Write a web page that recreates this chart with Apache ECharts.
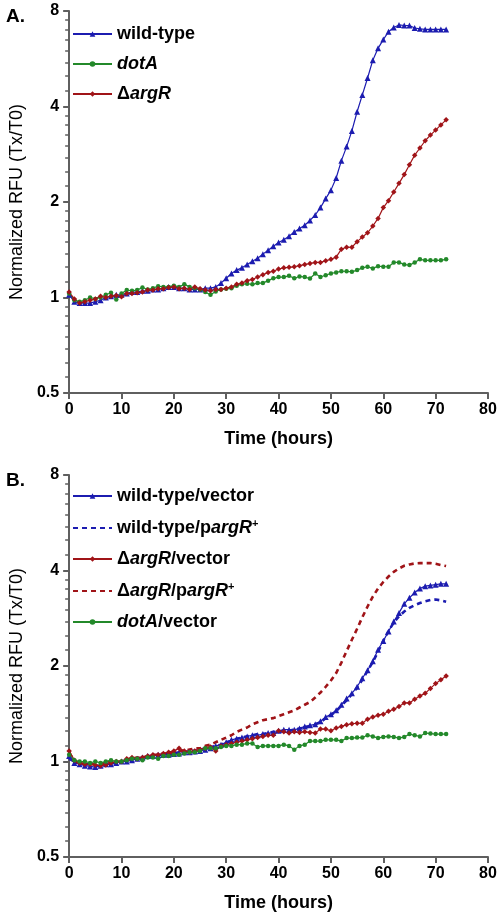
<!DOCTYPE html>
<html><head><meta charset="utf-8">
<script src="https://cdn.jsdelivr.net/npm/echarts@6/dist/echarts.min.js"></script>
<style>html,body{margin:0;padding:0;background:#fff}#c{width:500px;height:914px}</style>
</head><body><div id="c"></div>
<script>
// ---- data ----
const hours = [0,1,2,3,4,5,6,7,8,9,10,11,12,13,14,15,16,17,18,19,20,21,22,23,24,25,26,27,28,29,30,31,32,33,34,35,36,37,38,39,40,41,42,43,44,45,46,47,48,49,50,51,52,53,54,55,56,57,58,59,60,61,62,63,64,65,66,67,68,69,70,71,72];
const xTickLabels = [0,10,20,30,40,50,60,70,80];
const yMajor = [0.5,1,2,4,8];
const yMinor = [0.5625,0.625,0.6875,0.75,0.8125,0.875,0.9375,1.125,1.25,1.375,1.5,1.625,1.75,1.875,2.25,2.5,2.75,3,3.25,3.5,3.75,4.5,5,5.5,6,6.5,7,7.5];

// Panel A
const aWildType = [1.02,0.97,0.96,0.96,0.96,0.97,0.98,1.0,1.01,1.02,
  1.02,1.03,1.04,1.04,1.05,1.05,1.06,1.06,1.07,1.08,
  1.08,1.07,1.07,1.06,1.06,1.06,1.07,1.07,1.08,1.11,
  1.15,1.19,1.22,1.24,1.27,1.30,1.33,1.37,1.41,1.45,
  1.49,1.52,1.56,1.61,1.65,1.69,1.75,1.82,1.92,2.05,
  2.18,2.38,2.70,2.99,3.35,3.85,4.35,4.92,5.6,6.1,
  6.5,6.88,7.1,7.23,7.2,7.2,7.07,7.03,7.0,7.0,
  7.0,7.0,7.0];
const aDotA = [1.03,0.98,0.97,0.98,1.0,0.99,1.0,1.02,1.035,0.985,
  1.03,1.055,1.05,1.055,1.075,1.06,1.07,1.085,1.08,1.08,
  1.09,1.08,1.1,1.08,1.07,1.06,1.04,1.02,1.045,1.06,
  1.065,1.07,1.09,1.1,1.105,1.1,1.11,1.11,1.13,1.15,
  1.16,1.16,1.17,1.15,1.165,1.16,1.148,1.19,1.16,1.175,
  1.19,1.2,1.21,1.21,1.205,1.22,1.24,1.25,1.235,1.255,
  1.25,1.25,1.29,1.29,1.27,1.265,1.29,1.32,1.31,1.31,
  1.31,1.31,1.32];
const aArgR = [1.04,0.99,0.96,0.97,0.98,0.99,1.01,1.0,1.01,1.015,
  1.005,1.03,1.03,1.035,1.04,1.055,1.055,1.065,1.065,1.075,
  1.08,1.065,1.07,1.06,1.08,1.065,1.055,1.05,1.06,1.06,
  1.07,1.08,1.1,1.11,1.13,1.14,1.16,1.18,1.2,1.21,
  1.23,1.24,1.245,1.25,1.26,1.27,1.28,1.29,1.29,1.305,
  1.32,1.34,1.42,1.44,1.44,1.5,1.55,1.6,1.68,1.775,
  1.92,2.02,2.15,2.29,2.44,2.62,2.81,2.96,3.12,3.25,
  3.37,3.5,3.63];

// Panel B
const bWtVector = [1.04,0.99,0.98,0.97,0.965,0.96,0.97,0.98,0.98,0.99,
  1.0,1.0,1.01,1.02,1.03,1.04,1.04,1.05,1.05,1.05,
  1.055,1.06,1.07,1.07,1.075,1.08,1.09,1.1,1.12,1.13,
  1.15,1.17,1.18,1.19,1.2,1.21,1.21,1.22,1.23,1.23,
  1.25,1.26,1.26,1.26,1.27,1.29,1.30,1.31,1.34,1.38,
  1.41,1.45,1.51,1.58,1.64,1.72,1.83,1.94,2.07,2.25,
  2.40,2.57,2.76,2.94,3.14,3.28,3.41,3.51,3.57,3.59,
  3.61,3.63,3.63];
const bWtParg = [1.02,1.0,0.99,0.98,0.98,0.97,0.97,0.98,0.99,0.99,
  1.0,1.01,1.02,1.02,1.03,1.04,1.04,1.05,1.05,1.06,
  1.06,1.07,1.07,1.08,1.08,1.09,1.1,1.11,1.12,1.13,
  1.15,1.16,1.18,1.19,1.2,1.21,1.22,1.22,1.23,1.24,
  1.24,1.25,1.25,1.26,1.27,1.28,1.29,1.31,1.33,1.37,
  1.4,1.44,1.5,1.56,1.63,1.71,1.81,1.93,2.06,2.22,
  2.4,2.58,2.74,2.87,2.97,3.05,3.11,3.16,3.2,3.23,
  3.24,3.22,3.19];
const bArgVector = [1.08,1.01,0.99,0.98,0.98,0.975,0.97,0.975,0.99,1.0,
  1.0,1.02,1.03,1.02,1.03,1.04,1.05,1.05,1.06,1.07,
  1.08,1.1,1.08,1.07,1.08,1.09,1.1,1.11,1.08,1.12,
  1.13,1.14,1.15,1.16,1.17,1.18,1.19,1.2,1.21,1.21,
  1.25,1.24,1.23,1.24,1.235,1.24,1.235,1.23,1.265,1.265,
  1.25,1.275,1.29,1.305,1.315,1.32,1.32,1.36,1.38,1.40,
  1.41,1.44,1.46,1.49,1.53,1.53,1.57,1.61,1.64,1.70,
  1.76,1.81,1.86];
const bArgParg = [1.07,1.0,0.99,0.98,0.98,0.98,0.98,0.99,1.0,1.0,
  1.0,1.01,1.02,1.03,1.03,1.04,1.05,1.05,1.06,1.06,
  1.07,1.08,1.08,1.09,1.1,1.1,1.12,1.13,1.15,1.17,
  1.19,1.21,1.24,1.26,1.28,1.31,1.33,1.35,1.36,1.37,
  1.39,1.41,1.43,1.45,1.48,1.51,1.54,1.59,1.65,1.72,
  1.80,1.90,2.05,2.23,2.42,2.62,2.85,3.08,3.31,3.51,
  3.68,3.83,3.96,4.06,4.14,4.18,4.21,4.22,4.22,4.22,
  4.2,4.16,4.13];
const bDotVector = [1.05,1.01,1.0,1.0,0.99,1.0,0.99,1.0,1.01,1.0,
  1.0,1.01,1.02,1.02,1.01,1.03,1.03,1.02,1.04,1.04,
  1.05,1.05,1.06,1.07,1.07,1.08,1.1,1.1,1.1,1.11,
  1.12,1.12,1.13,1.13,1.14,1.14,1.11,1.12,1.12,1.12,
  1.12,1.13,1.12,1.09,1.12,1.13,1.16,1.16,1.16,1.17,
  1.17,1.17,1.16,1.185,1.185,1.19,1.19,1.21,1.2,1.185,
  1.195,1.2,1.195,1.185,1.195,1.22,1.21,1.2,1.23,1.225,
  1.22,1.22,1.22];

// ---- chart ----
const FONT = '"Liberation Sans", Arial, sans-serif';
const BLUE = '#1c1cb0', RED = '#a01418', GREEN = '#23892a', AXIS = '#5f5f5f';
const pair = arr => hours.map((h, i) => [h, arr[i]]);

const legendRich = {
  b: {fontWeight: 'bold', fontSize: 18, lineHeight: 20, color: '#000', fontFamily: FONT},
  i: {fontWeight: 'bold', fontStyle: 'italic', fontSize: 18, lineHeight: 20, color: '#000', fontFamily: FONT},
  s: {fontWeight: 'bold', fontSize: 11, lineHeight: 20, color: '#000', fontFamily: FONT, verticalAlign: 'top', padding: [0,0,8,0]}
};
const legendText = {
  'wild-type': '{b|wild-type}',
  'dotA': '{i|dotA}',
  'ΔargR': '{b|Δ}{i|argR}',
  'wild-type/vector': '{b|wild-type/vector}',
  'wild-type/pargR+': '{b|wild-type/p}{i|argR}{s|+}',
  'ΔargR/vector': '{b|Δ}{i|argR}{b|/vector}',
  'ΔargR/pargR+': '{b|Δ}{i|argR}{b|/p}{i|argR}{s|+}',
  'dotA/vector': '{i|dotA}{b|/vector}'
};

function xAx(gi) {
  return {
    type: 'value', gridIndex: gi, min: 0, max: 80, interval: 10,
    name: 'Time (hours)', nameLocation: 'middle', nameGap: 37,
    nameTextStyle: {fontFamily: FONT, fontWeight: 'bold', fontSize: 18, color: '#000'},
    axisLine: {lineStyle: {color: AXIS, width: 2}},
    axisTick: {length: 6, lineStyle: {color: AXIS, width: 2}},
    axisLabel: {fontFamily: FONT, fontWeight: 'bold', fontSize: 16, color: '#000', margin: 9,
      customValues: xTickLabels},
    splitLine: {show: false}
  };
}
function yMajorAx(gi) {
  return {
    type: 'log', logBase: 2, gridIndex: gi, min: 0.5, max: 8, position: 'left',
    name: 'Normalized RFU (Tx/T0)', nameLocation: 'middle', nameGap: 30,
    nameTextStyle: {fontFamily: FONT, fontWeight: 'normal', fontSize: 18, color: '#000'},
    axisLine: {lineStyle: {color: AXIS, width: 2}},
    axisTick: {length: 6, lineStyle: {color: AXIS, width: 2}, customValues: yMajor},
    axisLabel: {fontFamily: FONT, fontWeight: 'bold', fontSize: 16, color: '#000', margin: 10,
      customValues: yMajor, formatter: v => String(v)},
    splitLine: {show: false}, minorTick: {show: false}
  };
}
function yMinorAx(gi) {
  return {
    type: 'log', logBase: 2, gridIndex: gi, min: 0.5, max: 8, position: 'left', offset: 0,
    axisLine: {show: false},
    axisTick: {length: 4, lineStyle: {color: AXIS, width: 1.5}, customValues: yMinor},
    axisLabel: {show: false},
    splitLine: {show: false}
  };
}
function lineSeries(name, arr, xi, yi, color, symbol, size, dashed) {
  return {
    name, type: 'line', xAxisIndex: xi, yAxisIndex: yi, data: pair(arr),
    symbol: dashed ? 'none' : symbol, symbolSize: size, showSymbol: !dashed,
    lineStyle: {color, width: dashed ? 2.6 : 1.2, type: dashed ? [5, 4] : 'solid'},
    itemStyle: {color}, emphasis: {disabled: true}, z: 3
  };
}
const noSym = {color: 'rgba(0,0,0,0)', borderWidth: 0};

const chart = echarts.init(document.getElementById('c'), null, {renderer: 'canvas'});
chart.setOption({
  animation: false,
  backgroundColor: '#fff',
  title: [
    {text: 'A.', left: 1, top: 2, textStyle: {fontFamily: FONT, fontWeight: 'bold', fontSize: 19, color: '#000'}},
    {text: 'B.', left: 1, top: 466, textStyle: {fontFamily: FONT, fontWeight: 'bold', fontSize: 19, color: '#000'}}
  ],
  grid: [
    {left: 59, top: 11, width: 429, height: 382},
    {left: 59, top: 475, width: 429, height: 382}
  ],
  legend: [
    {orient: 'vertical', left: 72, top: 25, padding: 0, itemWidth: 39, itemHeight: 7, itemGap: 12,
     data: ['wild-type', 'dotA', 'ΔargR'], formatter: n => legendText[n],
     textStyle: {rich: legendRich}, selectedMode: false},
    {orient: 'vertical', left: 72, top: 487, padding: 0, itemWidth: 39, itemHeight: 7, itemGap: 13,
     data: ['wild-type/vector', {name: 'wild-type/pargR+', itemStyle: noSym}, 'ΔargR/vector',
            {name: 'ΔargR/pargR+', itemStyle: noSym}, 'dotA/vector'],
     formatter: n => legendText[n], textStyle: {rich: legendRich}, selectedMode: false}
  ],
  xAxis: [xAx(0), xAx(1)],
  yAxis: [yMajorAx(0), yMinorAx(0), yMajorAx(1), yMinorAx(1)],
  series: [
    lineSeries('wild-type', aWildType, 0, 0, BLUE, 'triangle', 6),
    lineSeries('dotA', aDotA, 0, 0, GREEN, 'circle', 4.5),
    lineSeries('ΔargR', aArgR, 0, 0, RED, 'diamond', 5.5),
    lineSeries('wild-type/vector', bWtVector, 1, 2, BLUE, 'triangle', 6),
    lineSeries('wild-type/pargR+', bWtParg, 1, 2, BLUE, 'none', 0, true),
    lineSeries('ΔargR/vector', bArgVector, 1, 2, RED, 'diamond', 5.5),
    lineSeries('ΔargR/pargR+', bArgParg, 1, 2, RED, 'none', 0, true),
    lineSeries('dotA/vector', bDotVector, 1, 2, GREEN, 'circle', 4.5)
  ]
});
</script>
</body></html>
